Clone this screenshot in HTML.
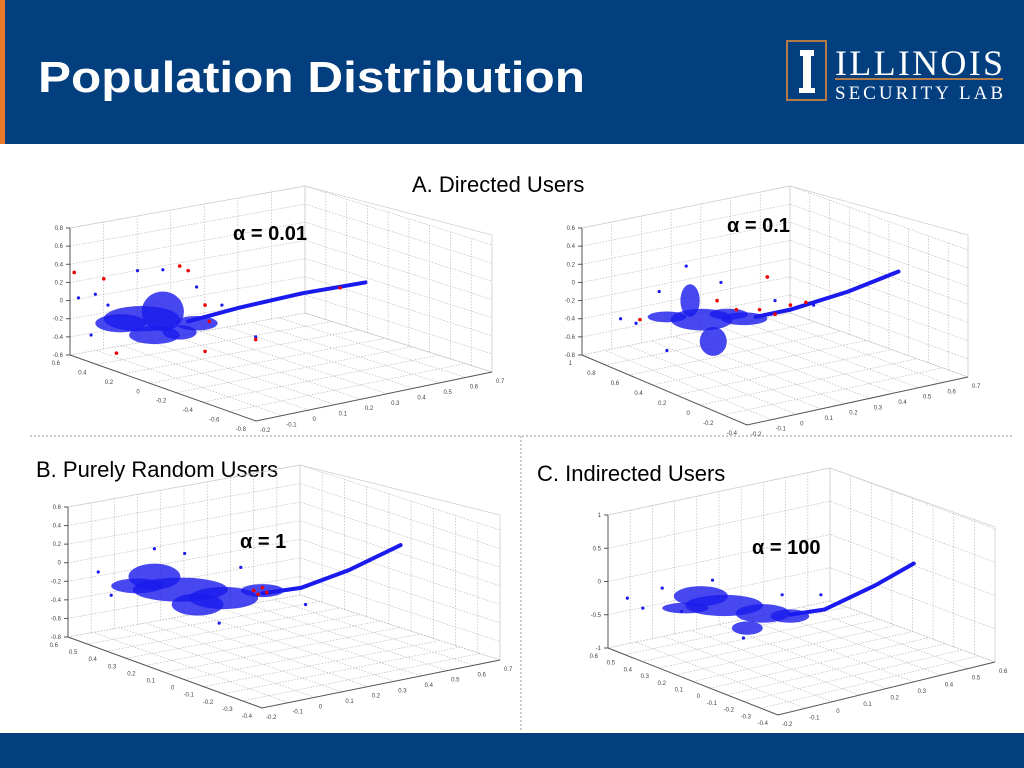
<!DOCTYPE html>
<html><head><meta charset="utf-8"><style>
body{margin:0;width:1024px;height:768px;overflow:hidden;background:#fff;font-family:"Liberation Sans",sans-serif}
svg{position:absolute;left:0;top:0}
</style></head><body>
<svg id="s" width="1024" height="768">
<rect x="0" y="0" width="1024" height="144" fill="#033f7f"/>
<rect x="0" y="0" width="5" height="144" fill="#e8782a"/>
<text x="38" y="92" font-size="44" font-weight="bold" fill="#fff" textLength="547" lengthAdjust="spacingAndGlyphs" font-family="Liberation Sans, sans-serif">Population Distribution</text>
<g>
<rect x="787" y="41" width="39" height="59" fill="none" stroke="#b27a46" stroke-width="2"/>
<rect x="800" y="50" width="14" height="6" fill="#fff"/><rect x="803" y="56" width="8" height="34" fill="#fff"/><rect x="799" y="88" width="16" height="5" fill="#fff"/>
<text x="835" y="75" font-size="36" fill="#fff" font-family="Liberation Serif, serif" textLength="168">ILLINOIS</text>
<rect x="835" y="78" width="168" height="2" fill="#b27a46"/>
<text x="835" y="99" font-size="19" fill="#fff" font-family="Liberation Serif, serif" textLength="168">SECURITY LAB</text>
</g>
<rect x="0" y="733" width="1024" height="35" fill="#033f7f"/>
<line x1="30" y1="436" x2="1012" y2="436" stroke="#999" stroke-dasharray="2,2"/>
<line x1="521" y1="436" x2="521" y2="732" stroke="#999" stroke-dasharray="2,2"/>
<text x="412" y="192" font-size="22" fill="#000">A. Directed Users</text>
<text x="36" y="477" font-size="22" fill="#000">B. Purely Random Users</text>
<text x="537" y="481" font-size="22" fill="#000">C. Indirected Users</text>
</svg>
<script>
// ---- chart data (projected horizontal position p in 0..1, vertical value z) ----
const zTicks1=[0.8,0.6,0.4,0.2,0,-0.2,-0.4,-0.6];
const zTicks2=[0.6,0.4,0.2,0,-0.2,-0.4,-0.6,-0.8];
const zTicks3=[0.6,0.4,0.2,0,-0.2,-0.4,-0.6,-0.8];
const zTicks4=[1,0.5,0,-0.5,-1];
const yTicks1=["0.6","0.4","0.2","0","-0.2","-0.4","-0.6","-0.8"];
const yTicks2=["1","0.8","0.6","0.4","0.2","0","-0.2","-0.4"];
const yTicks3=["0.6","0.5","0.4","0.3","0.2","0.1","0","-0.1","-0.2","-0.3","-0.4"];
const yTicks4=["0.6","0.5","0.4","0.3","0.2","0.1","0","-0.1","-0.2","-0.3","-0.4"];
const xTicks1=["-0.2","-0.1","0","0.1","0.2","0.3","0.4","0.5","0.6","0.7"];
const xTicks2=["-0.2","-0.1","0","0.1","0.2","0.3","0.4","0.5","0.6","0.7"];
const xTicks3=["-0.2","-0.1","0","0.1","0.2","0.3","0.4","0.5","0.6","0.7"];
const xTicks4=["-0.2","-0.1","0","0.1","0.2","0.3","0.4","0.5","0.6"];
// dense clusters: centre p, centre z, radius p, radius z
const blobP1=[0.17,0.22,0.12,0.30,0.26,0.20];const blobZ1=[-0.20,-0.12,-0.25,-0.25,-0.35,-0.38];const blobRP1=[0.09,0.05,0.06,0.05,0.04,0.06];const blobRZ1=[0.14,0.22,0.10,0.08,0.08,0.10];
const blobP2=[0.31,0.28,0.34,0.42,0.38,0.22];const blobZ2=[-0.41,-0.20,-0.65,-0.40,-0.35,-0.38];const blobRP2=[0.08,0.025,0.035,0.06,0.05,0.05];const blobRZ2=[0.12,0.18,0.16,0.07,0.06,0.06];
const blobP3=[0.26,0.20,0.36,0.45,0.30,0.16];const blobZ3=[-0.29,-0.15,-0.38,-0.30,-0.45,-0.25];const blobRP3=[0.11,0.06,0.08,0.05,0.06,0.06];const blobRZ3=[0.13,0.14,0.12,0.07,0.12,0.08];
const blobP4=[0.30,0.24,0.40,0.47,0.36,0.20];const blobZ4=[-0.36,-0.22,-0.48,-0.52,-0.70,-0.40];const blobRP4=[0.10,0.07,0.07,0.05,0.04,0.06];const blobRZ4=[0.16,0.15,0.14,0.10,0.10,0.08];
// tails
const tailP1=[0.28,0.40,0.55,0.70];const tailZ1=[-0.23,-0.08,0.08,0.20];
const tailP2=[0.45,0.54,0.69,0.82];const tailZ2=[-0.38,-0.30,-0.10,0.12];
const tailP3=[0.45,0.54,0.65,0.77];const tailZ3=[-0.33,-0.27,-0.08,0.19];
const tailP4=[0.47,0.56,0.69,0.79];const tailZ4=[-0.50,-0.42,-0.06,0.27];
// blue outliers
const outP1=[0.02,0.06,0.09,0.16,0.22,0.30,0.36,0.44,0.05];const outZ1=[0.03,0.07,-0.05,0.33,0.34,0.15,-0.05,-0.40,-0.38];
const outP2=[0.10,0.14,0.20,0.27,0.36,0.50,0.60,0.22];const outZ2=[-0.40,-0.45,-0.10,0.18,0.00,-0.20,-0.25,-0.75];
const outP3=[0.07,0.10,0.20,0.27,0.40,0.55,0.35];const outZ3=[-0.10,-0.35,0.15,0.10,-0.05,-0.45,-0.65];
const outP4=[0.05,0.09,0.14,0.19,0.27,0.55,0.45,0.35];const outZ4=[-0.25,-0.40,-0.10,-0.45,0.02,-0.20,-0.20,-0.85];
// red points
const redP1=[0.01,0.11,0.26,0.32,0.33,0.32,0.44,0.64,0.28,0.08];const redZ1=[0.31,-0.58,0.38,-0.05,-0.23,-0.56,-0.43,0.14,0.33,0.24];
const redP2=[0.15,0.35,0.46,0.54,0.40,0.50,0.58,0.48];const redZ2=[-0.41,-0.20,-0.30,-0.25,-0.30,-0.35,-0.22,0.06];
const redP3=[0.43,0.45,0.46,0.44];const redZ3=[-0.30,-0.27,-0.32,-0.34];
const redP4=[];const redZ4=[];
const alphaLbl=["α = 0.01","α = 0.1","α = 1","α = 100"];

const charts=[
 {F0:[70,355],F1:[256,421],F2:[492,372],T0:[70,228],Tb:[305,186],T2:[492,235],zt:zTicks1,yt:yTicks1,xt:xTicks1,bp:blobP1,bz:blobZ1,brp:blobRP1,brz:blobRZ1,tp:tailP1,tz:tailZ1,op:outP1,oz:outZ1,rp:redP1,rz:redZ1,al:[233,240]},
 {F0:[582,355],F1:[747,425],F2:[968,377],T0:[582,228],Tb:[790,186],T2:[968,235],zt:zTicks2,yt:yTicks2,xt:xTicks2,bp:blobP2,bz:blobZ2,brp:blobRP2,brz:blobRZ2,tp:tailP2,tz:tailZ2,op:outP2,oz:outZ2,rp:redP2,rz:redZ2,al:[727,232]},
 {F0:[68,637],F1:[262,708],F2:[500,660],T0:[68,507],Tb:[300,465],T2:[500,515],zt:zTicks3,yt:yTicks3,xt:xTicks3,bp:blobP3,bz:blobZ3,brp:blobRP3,brz:blobRZ3,tp:tailP3,tz:tailZ3,op:outP3,oz:outZ3,rp:redP3,rz:redZ3,al:[240,548]},
 {F0:[608,648],F1:[778,715],F2:[995,662],T0:[608,515],Tb:[830,468],T2:[995,527],zt:zTicks4,yt:yTicks4,xt:xTicks4,bp:blobP4,bz:blobZ4,brp:blobRP4,brz:blobRZ4,tp:tailP4,tz:tailZ4,op:outP4,oz:outZ4,rp:redP4,rz:redZ4,al:[752,554]}
];
const NS="http://www.w3.org/2000/svg";const S=document.getElementById('s');
function mk(t,a,p){const e=document.createElementNS(NS,t);for(const k in a)e.setAttribute(k,a[k]);(p||S).appendChild(e);return e;}
const lerp=(a,b,t)=>[a[0]+(b[0]-a[0])*t,a[1]+(b[1]-a[1])*t];
charts.forEach((c,ci)=>{
 const g=mk('g',{});
 
 
 const zmax=c.zt[0],zmin=c.zt[c.zt.length-1],H=c.F0[1]-c.T0[1];
 const zy=z=>c.F0[1]-(z-zmin)/(zmax-zmin)*H;
 const px=p=>c.F0[0]+p*(c.F2[0]-c.F0[0]);
 const B0=[c.Tb[0],c.Tb[1]+H];
 const gs={stroke:'#bbb','stroke-width':0.7,'stroke-dasharray':'1.5,1.5',fill:'none'};
 const ln=(a,b)=>mk('line',Object.assign({x1:a[0],y1:a[1],x2:b[0],y2:b[1]},gs),g);
 // horizontal grid on back walls
 c.zt.forEach(z=>{const d=c.F0[1]-zy(z);
  mk('polyline',Object.assign({points:`${c.F0[0]},${c.F0[1]-d} ${B0[0]},${B0[1]-d} ${c.F2[0]},${c.F2[1]-d}`},gs),g);});
 // y-direction grid: left wall verticals + floor lines
 for(let i=0;i<c.yt.length;i++){const t=i/(c.yt.length-1);
  const a=lerp(c.F0,B0,1-t);ln(a,[a[0],a[1]-H]);
  ln(lerp(c.F0,c.F1,t),lerp(B0,c.F2,t));}
 // x-direction grid: back wall verticals + floor lines
 for(let i=0;i<c.xt.length;i++){const t=i/(c.xt.length-1);
  const a=lerp(B0,c.F2,t);ln(a,[a[0],a[1]-H]);
  ln(lerp(c.F1,c.F2,t),lerp(c.F0,B0,t));}
 // frame
 mk('polyline',{points:`${c.F0[0]},${c.F0[1]} ${c.F1[0]},${c.F1[1]} ${c.F2[0]},${c.F2[1]}`,stroke:'#555','stroke-width':1,fill:'none'},g);
 mk('line',{x1:c.F0[0],y1:c.F0[1],x2:c.T0[0],y2:c.T0[1],stroke:'#555','stroke-width':1},g);
 mk('polyline',{points:`${c.T0[0]},${c.T0[1]} ${c.Tb[0]},${c.Tb[1]} ${c.T2[0]},${c.T2[1]} ${c.F2[0]},${c.F2[1]}`,stroke:'#ccc','stroke-width':0.7,fill:'none'},g);
 mk('line',{x1:B0[0],y1:B0[1],x2:c.Tb[0],y2:c.Tb[1],stroke:'#ccc','stroke-width':0.7},g);
 // ticks
 c.zt.forEach(z=>{mk('line',{x1:c.F0[0]-4,y1:zy(z),x2:c.F0[0],y2:zy(z),stroke:'#555'},g);
  const t=mk('text',{x:c.F0[0]-7,y:zy(z)+2,'font-size':6,'text-anchor':'end',fill:'#444'},g);t.textContent=z;
  });
 c.yt.forEach((l,i)=>{const p=lerp(c.F0,c.F1,i/(c.yt.length-1));
  const t=mk('text',{x:p[0]-10,y:p[1]+10,'font-size':6,'text-anchor':'end',fill:'#444'},g);t.textContent=l;
  });
 c.xt.forEach((l,i)=>{const p=lerp(c.F1,c.F2,i/(c.xt.length-1));
  const t=mk('text',{x:p[0]+4,y:p[1]+11,'font-size':6,fill:'#444'},g);t.textContent=l;
  });
 const sc=(c.F2[0]-c.F0[0]),zs=H/(zmax-zmin);
 c.op.forEach((p,i)=>{const e=mk('circle',{cx:px(p),cy:zy(c.oz[i]),r:1.6,fill:'#1a1aee'},g);
  });
 c.bp.forEach((p,i)=>{const e=mk('ellipse',{cx:px(p),cy:zy(c.bz[i]),rx:c.brp[i]*sc,ry:c.brz[i]*zs,fill:'#1a1aee','fill-opacity':0.8},g);
  });
 const pts=c.tp.map((p,i)=>px(p)+','+zy(c.tz[i])).join(' ');
 const tl=mk('polyline',{points:pts,stroke:'#1a1aee','stroke-width':4,fill:'none','stroke-linecap':'round'},g);
 
 c.rp.forEach((p,i)=>{const e=mk('circle',{cx:px(p),cy:zy(c.rz[i]),r:1.8,fill:'#e00'},g);
  });
 const a=mk('text',{x:c.al[0],y:c.al[1],'font-size':20,'font-weight':'bold',fill:'#000'},g);a.textContent=alphaLbl[ci];
 
});
</script>
</body></html>
